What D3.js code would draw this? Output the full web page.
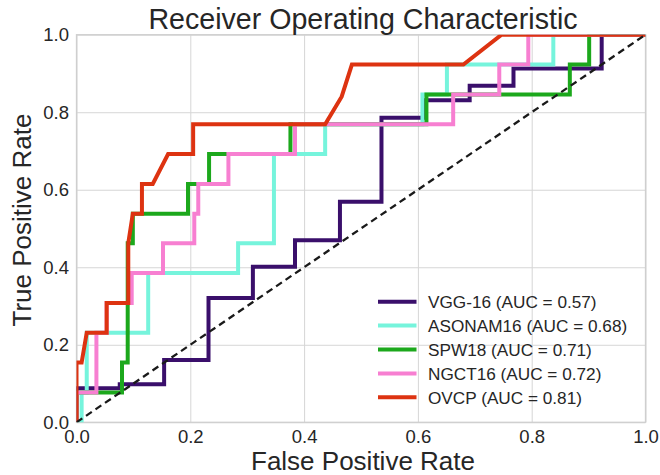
<!DOCTYPE html>
<html>
<head>
<meta charset="utf-8">
<script src="https://cdn.jsdelivr.net/npm/d3@7"></script>
<style>
  html, body { margin: 0; padding: 0; background: #ffffff; }
  svg { display: block; font-family: "Liberation Sans", Arial, sans-serif; }
</style>
</head>
<body>
<svg id="chart" width="660" height="475"></svg>
<script>
// ---- data ----
const seriesNames = ["VGG-16", "ASONAM16", "SPW18", "NGCT16", "OVCP"];
const aucValues = [0.57, 0.68, 0.71, 0.72, 0.81];
const seriesColors = ["#3a0f6b", "#76f4dc", "#1ca81c", "#f77fd1", "#dd3311"];

const vggFpr = [0, 0, 0.076, 0.076, 0.154, 0.154, 0.232, 0.232, 0.31, 0.31, 0.384, 0.384, 0.463, 0.463, 0.536, 0.536, 0.609, 0.609, 0.691, 0.691, 0.768, 0.768, 0.923, 0.923, 1];
const vggTpr = [0, 0.088, 0.088, 0.098, 0.098, 0.161, 0.161, 0.321, 0.321, 0.401, 0.401, 0.47, 0.47, 0.569, 0.569, 0.786, 0.786, 0.831, 0.831, 0.868, 0.868, 0.913, 0.913, 1, 1];

const asonamFpr = [0, 0.009, 0.009, 0.018, 0.018, 0.126, 0.126, 0.284, 0.284, 0.347, 0.347, 0.437, 0.437, 0.608, 0.608, 0.651, 0.651, 0.838, 0.838, 1];
const asonamTpr = [0, 0, 0.077, 0.077, 0.231, 0.231, 0.385, 0.385, 0.462, 0.462, 0.692, 0.692, 0.769, 0.769, 0.846, 0.846, 0.923, 0.923, 1, 1];

const spwFpr = [0, 0, 0.08, 0.08, 0.09, 0.09, 0.099, 0.099, 0.196, 0.196, 0.233, 0.233, 0.376, 0.376, 0.615, 0.615, 0.867, 0.867, 0.901, 0.901, 1];
const spwTpr = [0, 0.077, 0.077, 0.154, 0.154, 0.462, 0.462, 0.538, 0.538, 0.615, 0.615, 0.692, 0.692, 0.769, 0.769, 0.846, 0.846, 0.923, 0.923, 1, 1];

const ngctFpr = [0, 0, 0.035, 0.035, 0.053, 0.053, 0.097, 0.097, 0.152, 0.152, 0.207, 0.207, 0.214, 0.214, 0.267, 0.267, 0.384, 0.384, 0.662, 0.662, 0.743, 0.743, 0.794, 0.794, 1];
const ngctTpr = [0, 0.077, 0.077, 0.231, 0.231, 0.308, 0.308, 0.385, 0.385, 0.462, 0.462, 0.538, 0.538, 0.615, 0.615, 0.692, 0.692, 0.769, 0.769, 0.846, 0.846, 0.923, 0.923, 1, 1];

const ovcpFpr = [0, 0, 0.009, 0.018, 0.053, 0.053, 0.091, 0.091, 0.099, 0.115, 0.115, 0.134, 0.161, 0.205, 0.205, 0.437, 0.466, 0.484, 0.68, 0.747, 1];
const ovcpTpr = [0, 0.154, 0.154, 0.231, 0.231, 0.308, 0.308, 0.462, 0.538, 0.538, 0.615, 0.615, 0.692, 0.692, 0.769, 0.769, 0.84, 0.923, 0.923, 1, 1];

const chanceFpr = [0, 1];
const chanceTpr = [0, 1];

const xTicks = [0, 0.2, 0.4, 0.6, 0.8, 1.0];
const yTicks = [0, 0.2, 0.4, 0.6, 0.8, 1.0];
const titleText = "Receiver Operating Characteristic";
const xLabelText = "False Positive Rate";
const yLabelText = "True Positive Rate";

// ---- build ----
const fprs = [vggFpr, asonamFpr, spwFpr, ngctFpr, ovcpFpr];
const tprs = [vggTpr, asonamTpr, spwTpr, ngctTpr, ovcpTpr];
const series = seriesNames.map((name, i) => ({
  name, auc: aucValues[i], color: seriesColors[i],
  pts: fprs[i].map((f, j) => [f, tprs[i][j]])
}));

const W = 660, H = 475;
const margin = { left: 76.5, right: 14.5, top: 34.7, bottom: 52.7 };
const iw = W - margin.left - margin.right;
const ih = H - margin.top - margin.bottom;

const svg = d3.select("#chart");
const g = svg.append("g").attr("transform", `translate(${margin.left},${margin.top})`);

const x = d3.scaleLinear().domain([0, 1]).range([0, iw]);
const y = d3.scaleLinear().domain([0, 1]).range([ih, 0]);

const textColor = "#262626";
const gridColor = "#d6d6d6";

// grid
g.append("g").attr("class", "xgrid")
  .attr("transform", `translate(0,${ih})`)
  .call(d3.axisBottom(x).tickValues(xTicks).tickSize(-ih).tickFormat(""))
  .call(s => s.select(".domain").remove())
  .call(s => s.selectAll("line").attr("stroke", gridColor).attr("stroke-width", 1));
g.append("g").attr("class", "ygrid")
  .call(d3.axisLeft(y).tickValues(yTicks).tickSize(-iw).tickFormat(""))
  .call(s => s.select(".domain").remove())
  .call(s => s.selectAll("line").attr("stroke", gridColor).attr("stroke-width", 1));

// frame
g.append("rect").attr("x", 0).attr("y", 0).attr("width", iw).attr("height", ih)
  .attr("fill", "none").attr("stroke", "#cfcfcf").attr("stroke-width", 1.3);

// tick labels
g.append("g").attr("transform", `translate(0,${ih})`)
  .call(d3.axisBottom(x).tickValues(xTicks).tickSize(0).tickPadding(8).tickFormat(d3.format(".1f")))
  .call(s => s.select(".domain").remove())
  .call(s => s.selectAll("text").attr("fill", textColor).style("font-size", "18.5px")
    .style("font-family", '"Liberation Sans", Arial, sans-serif'));
g.append("g")
  .call(d3.axisLeft(y).tickValues(yTicks).tickSize(0).tickPadding(7.5).tickFormat(d3.format(".1f")))
  .call(s => s.select(".domain").remove())
  .call(s => s.selectAll("text").attr("fill", textColor).style("font-size", "18.5px")
    .style("font-family", '"Liberation Sans", Arial, sans-serif'));

// clip
svg.append("defs").append("clipPath").attr("id", "plotclip")
  .append("rect").attr("x", 0).attr("y", 0).attr("width", iw).attr("height", ih);

const line = d3.line().x(d => x(d[0])).y(d => y(d[1]));
const plot = g.append("g").attr("clip-path", "url(#plotclip)");

plot.selectAll("path.roc").data(series).join("path")
  .attr("class", "roc")
  .attr("d", d => line(d.pts))
  .attr("fill", "none")
  .attr("stroke", d => d.color)
  .attr("stroke-width", 4)
  .attr("stroke-linejoin", "miter")
  .attr("stroke-linecap", "butt");

plot.append("path")
  .attr("d", line(chanceFpr.map((f, i) => [f, chanceTpr[i]])))
  .attr("fill", "none").attr("stroke", "#1a1a1a").attr("stroke-width", 2.3)
  .attr("stroke-dasharray", "7,4.5");

// legend
const lg = svg.append("g").attr("transform", "translate(378,301.7)");
const rows = lg.selectAll("g").data(series).join("g")
  .attr("transform", (d, i) => `translate(0,${i * 23.9})`);
rows.append("line").attr("x1", 0).attr("x2", 38.5).attr("y1", 0).attr("y2", 0)
  .attr("stroke", d => d.color).attr("stroke-width", 4);
rows.append("text").attr("x", 50).attr("y", 0).attr("dy", "0.36em")
  .attr("fill", textColor).style("font-size", "17.2px")
  .text(d => `${d.name} (AUC = ${d.auc.toFixed(2)})`);

// title & labels
svg.append("text").attr("x", 363).attr("y", 28.5).attr("text-anchor", "middle")
  .attr("fill", textColor).style("font-size", "28.6px").text(titleText);
svg.append("text").attr("x", 363).attr("y", 469.5).attr("text-anchor", "middle")
  .attr("fill", textColor).style("font-size", "26px").text(xLabelText);
svg.append("text").attr("transform", "translate(31,220) rotate(-90)").attr("text-anchor", "middle")
  .attr("fill", textColor).style("font-size", "26px").text(yLabelText);
</script>
</body>
</html>
